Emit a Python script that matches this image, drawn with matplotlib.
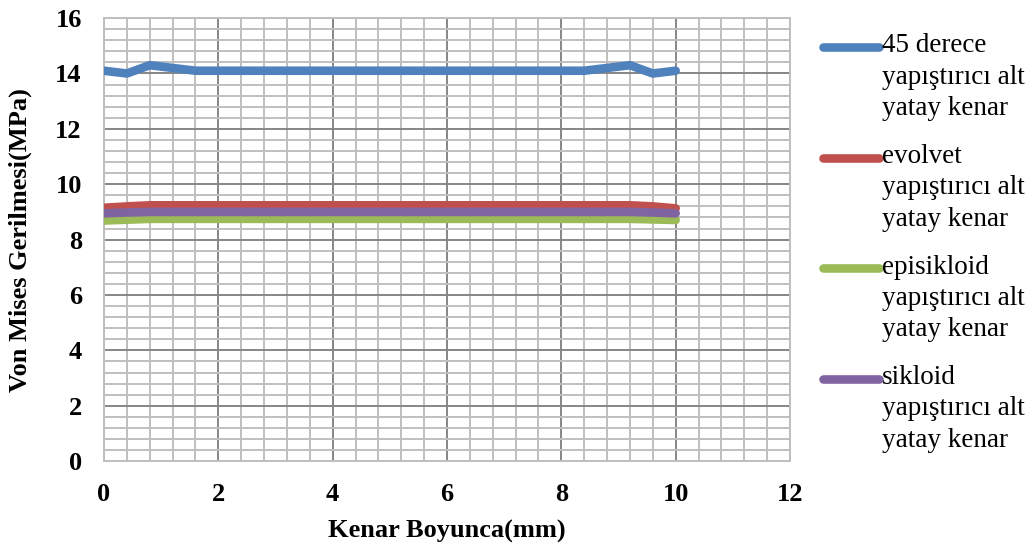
import numpy as np
import matplotlib
matplotlib.use("Agg")
import matplotlib.pyplot as plt
from matplotlib.legend_handler import HandlerLine2D
from matplotlib.lines import Line2D
from matplotlib.ticker import MultipleLocator

x_mm = [0, 0.4, 0.8, 1.2, 1.6, 2.0, 2.4, 2.8, 3.2, 3.6, 4.0, 4.4, 4.8, 5.2,
        5.6, 6.0, 6.4, 6.8, 7.2, 7.6, 8.0, 8.4, 8.8, 9.2, 9.6, 10.0]
deg45 = [14.1, 14.0, 14.3, 14.2, 14.1, 14.1, 14.1, 14.1, 14.1, 14.1, 14.1, 14.1, 14.1,
         14.1, 14.1, 14.1, 14.1, 14.1, 14.1, 14.1, 14.1, 14.1, 14.2, 14.3, 14.0, 14.1]
evolvet = [9.15, 9.2, 9.24, 9.24, 9.24, 9.24, 9.24, 9.24, 9.24, 9.24, 9.24, 9.24, 9.24,
           9.24, 9.24, 9.24, 9.24, 9.24, 9.24, 9.24, 9.24, 9.24, 9.24, 9.24, 9.2, 9.13]
episikloid = [8.69, 8.72, 8.75, 8.75, 8.75, 8.75, 8.75, 8.75, 8.75, 8.75, 8.75, 8.75, 8.75,
              8.75, 8.75, 8.75, 8.75, 8.75, 8.75, 8.75, 8.75, 8.75, 8.75, 8.75, 8.73, 8.71]
sikloid = [8.95, 8.98, 9.0, 9.0, 9.0, 9.0, 9.0, 9.0, 9.0, 9.0, 9.0, 9.0, 9.0,
           9.0, 9.0, 9.0, 9.0, 9.0, 9.0, 9.0, 9.0, 9.0, 9.0, 9.0, 8.98, 8.95]

labels = ["45 derece\nyapıştırıcı alt\nyatay kenar",
          "evolvet\nyapıştırıcı alt\nyatay kenar",
          "episikloid\nyapıştırıcı alt\nyatay kenar",
          "sikloid\nyapıştırıcı alt\nyatay kenar"]
colors = ["#4F81BD", "#C0504D", "#9BBB59", "#8064A2"]
series = [deg45, evolvet, episikloid, sikloid]

plt.rcParams['font.family'] = ['Liberation Serif', 'DejaVu Serif']

fig = plt.figure(figsize=(10.30, 5.49), dpi=100)
ax = fig.add_axes([0.101, 0.160, 0.666, 0.807])

lines = []
for ys, c, lab in zip(series, colors, labels):
    ln, = ax.plot(x_mm, ys, color=c, lw=6.2, solid_capstyle='round',
                  solid_joinstyle='round', label=lab, zorder=3)
    lines.append(ln)

ax.set_xlim(0, 12)
ax.set_ylim(0, 16)
ax.xaxis.set_major_locator(MultipleLocator(2))
ax.yaxis.set_major_locator(MultipleLocator(2))
ax.xaxis.set_minor_locator(MultipleLocator(0.4))
ax.yaxis.set_minor_locator(MultipleLocator(0.4))
ax.grid(which='minor', color='#BFBFBF', lw=1.4, zorder=1)
ax.grid(which='major', color='#868686', lw=1.4, zorder=2)
ax.set_axisbelow(True)
for s in ax.spines.values():
    s.set_color('#BFBFBF')
    s.set_linewidth(1.4)
ax.tick_params(which='both', length=0)
ax.tick_params(axis='x', pad=16, labelsize=19)
ax.tick_params(axis='y', pad=16, labelsize=19)
for t in ax.get_xticklabels() + ax.get_yticklabels():
    t.set_fontweight('bold')

ax.set_xlabel("Kenar Boyunca(mm)", fontsize=19, fontweight='bold', labelpad=10)
ax.set_ylabel("Von Mises Gerilmesi(MPa)", fontsize=19, fontweight='bold', labelpad=17)

LEG_FS = 19.5
LINE_PITCH_PT = 21.6


class TopHandler(HandlerLine2D):
    def create_artists(self, legend, orig_handle, xdescent, ydescent,
                       width, height, fontsize, trans):
        arts = super().create_artists(legend, orig_handle, xdescent, ydescent,
                                      width, height, fontsize, trans)
        for a in arts:
            a.set_ydata(np.asarray(a.get_ydata()) + LINE_PITCH_PT)
        return arts


leg = fig.legend(handles=lines, labels=labels, loc='upper left',
                 bbox_to_anchor=(0.799, 0.939), frameon=False, fontsize=LEG_FS,
                 handlelength=2.07, handletextpad=0.1, labelspacing=0.85,
                 borderaxespad=0, borderpad=0,
                 handler_map={Line2D: TopHandler()})
for t in leg.get_texts():
    t.set_linespacing(1.33)

fig.savefig("out.png", dpi=100)
